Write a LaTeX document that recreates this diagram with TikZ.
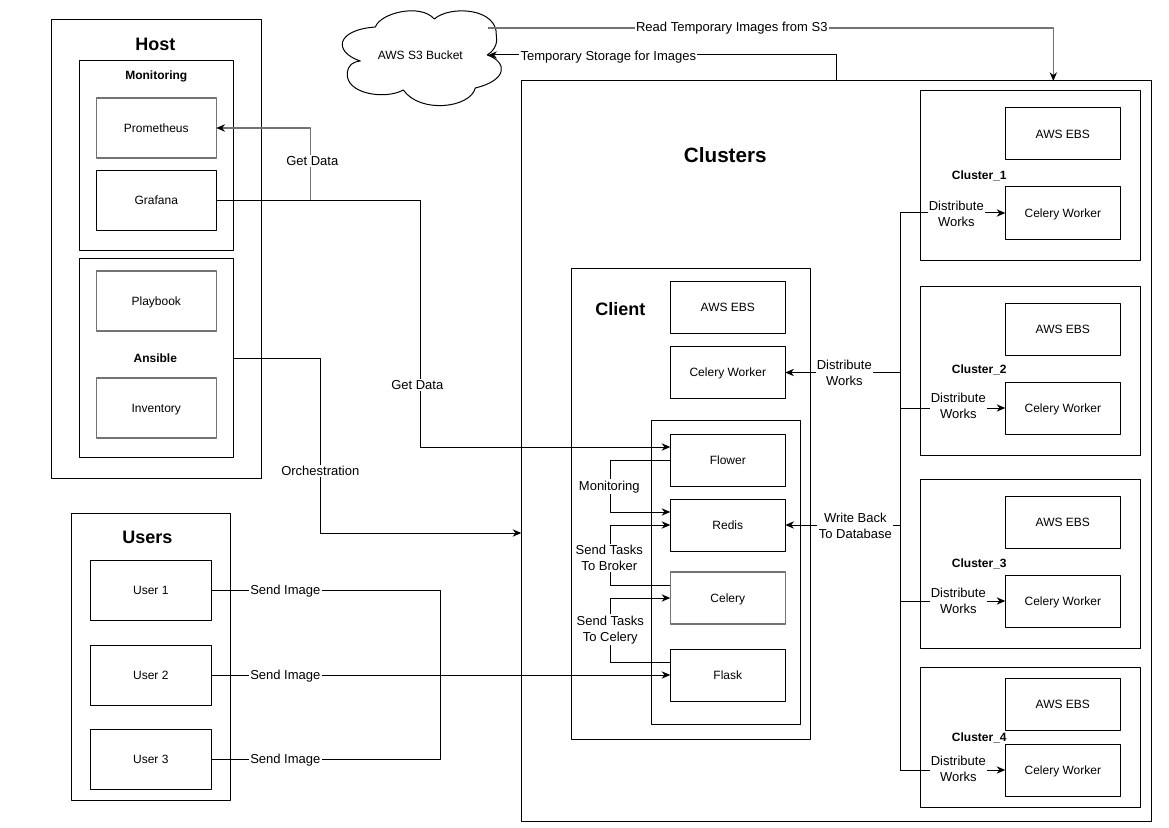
\documentclass[tikz,border=0pt]{standalone}
\usepackage{fontspec}
\setmainfont{Liberation Sans}
\usetikzlibrary{arrows.meta}
\tikzset{
	box/.style 2 args={draw, outer sep=0pt, inner sep=0pt, minimum width=#1*.75pt, minimum height=#2*.75pt, align=center, text height=7.6pt, text depth=1.4pt},
	greybox/.style={draw=black!55, line width=1.2pt},
	greyline/.style={draw=black!55, line width=1.1pt, >={Stealth[length=6.5pt,width=5.5pt,color=black]}},
	lbl/.style={fill=white, inner sep=1pt, align=center, yshift=-.5pt, font=\fontsize{9.75}{12}\selectfont},
	bold/.style={font=\fontsize{9}{11}\selectfont\bfseries, inner sep=0pt, yshift=-.5pt},
	big/.style={font=\fontsize{13.5}{15}\selectfont\bfseries, inner sep=0pt},
	hi/.style={yshift=9.75pt}
}
\begin{document}
\begin{tikzpicture}[x=.75pt, y=-.75pt, line join=round, >={Stealth[length=6.5pt,width=5.5pt]}, font=\fontsize{9}{12}\selectfont, line width=.75pt]
	\useasboundingbox (-.3,0) rectangle (1168.7,827);
	%% points
	\path
	(488,28) coordinate (s3out)
	(488,55) coordinate (s3in)
	(1053,81) coordinate (cluin)
	(521,533) coordinate (cluleft)
	(310,200) coordinate (jget)
	(440,675) coordinate (jsend)
	(900,213) coordinate (bustop)
	(900,770) coordinate (busbot)
	;
	%% outer boxes
	\node[box={210}{458}] (host) at (156,249) {};
	\node[box={154}{190}] (mon) at (156,155.5) {};
	\node[box={154}{199}] (ans) at (156,358.3) {};
	\node[box={159}{287}] (users) at (150.5,656.5) {};
	\node[box={630}{740}] (clu) at (836,451) {};
	\node[box={239}{471}] (cli) at (690.5,503.5) {};
	\node[box={149}{304}] (srv) at (725.5,572) {};
	\foreach \n/\y/\h in {c1/175.5/169,c2/370.5/169,c3/563.5/169,c4/737/140}
	\node[box={220}{\h}] (\n) at (1030,\y) {};
	%% cloud
	\draw (375,27) .. controls (380,13) and (420,3) .. (434,19)
	.. controls (450,5) and (498,8) .. (496,36)
	.. controls (498,45) and (492,52) .. (487,55)
	.. controls (507,62) and (508,80) .. (475,88)
	.. controls (470,108) and (420,114) .. (403,90)
	.. controls (385,100) and (345,94) .. (347,73)
	.. controls (348,65) and (352,62) .. (360,61)
	.. controls (333,52) and (335,30) .. (375,27);
	\node[inner sep=0pt] (s3) at (420,55) {AWS S3 Bucket};
	%% host
	\node[box={120}{60}, greybox] (pro) at (156,128) {Prometheus};
	\node[box={120}{60}] (gra) at (156,200.5) {Grafana};
	\node[box={120}{60}, greybox] (pla) at (156,301) {Playbook};
	\node[box={120}{60}, greybox] (inv) at (156,408) {Inventory};
	%% users
	\foreach \n/\y/\t in {us1/590/User 1,us2/675/User 2,us3/759/User 3}
	\node[box={121}{60}] (\n) at (150.5,\y) {\t};
	%% client
	\foreach \n/\y/\t in {ceb/307.5/AWS EBS,cwk/372.5/Celery Worker,flo/460/Flower,red/525/Redis,fla/675/Flask}
	\node[box={115}{52}] (\n) at (727.5,\y) {\t};
	\node[box={115}{52}, greybox] (cel) at (727.5,598) {Celery};
	%% cluster
	\foreach \i/\y in {1/134,2/329,3/522,4/704}
	\node[box={115}{52}] (eb\i) at (1062.5,\y) {AWS EBS};
	\foreach \i/\y in {1/213,2/408,3/601,4/770}
	\node[box={115}{52}] (wk\i) at (1062.5,\y) {Celery Worker};
	%% connectors
	\draw[greyline, ->] (s3out) -| (cluin);
	\draw[->] (clu.north) |- (s3in);
	\draw[->] (gra.east) -- ++(204,0) |- ([hi]flo.west);
	\draw[greyline, ->] (jget) |- (pro.east);
	\draw[->] (ans.east) -- ++(87,0) |- (cluleft);
	\draw (us1.east) -| (jsend);
	\draw (us3.east) -| (jsend);
	\draw[->] (us2.east) -- (fla.west);
	\draw[->] (flo.west) -- ++(-60,0) |- ([hi]red.west);
	\draw[->] ([hi]cel.west) -- ++(-60,0) |- (red.west);
	\draw[->] ([hi]fla.west) -- ++(-60,0) |- (cel.west);
	\draw (bustop) -- (busbot);
	\foreach \i in {1,2,3,4}
	\draw[->] (wk\i.west -| bustop) -- (wk\i.west);
	\draw[->] (cwk.east -| bustop) -- (cwk.east);
	\draw[->] (red.east -| bustop) -- (red.east);
	%% labels
	\foreach \n/\x/\y/\t in {l1/731.5/27/Read Temporary Images from S3,l2/608/56/Temporary Storage for Images,l3/312/160/Get Data,l4/417/384/Get Data,l5/320/470/Orchestration,l6/285/590/Send Image,l7/285/675/Send Image,l8/285/759/Send Image,l9/609/486/Monitoring,l10/609/557/Send Tasks\\To Broker,l11/610/629/Send Tasks\\To Celery,l12/855/525/Write Back\\To Database,l13/844/372/Distribute\\Works,l14/956/213/Distribute\\Works,l15/958/405/Distribute\\Works,l16/958/600/Distribute\\Works,l17/958/768/Distribute\\Works}
	\node[lbl] (\n) at (\x,\y) {\t};
	%% titles
	\node[big] (thost) at (155,44) {Host};
	\node[bold] (tmon) at (156,75.5) {Monitoring};
	\node[bold] (tans) at (155,358) {Ansible};
	\node[big] (tusers) at (147,537) {Users};
	\node[big, font=\fontsize{15.5}{17}\selectfont\bfseries] (tclu) at (725,155) {Clusters};
	\node[big] (tcli) at (620,309) {Client};
	\foreach \i/\y in {1/175,2/369,3/563,4/737}
	\node[bold] (tc\i) at (979,\y) {Cluster\_\i};
\end{tikzpicture}
\end{document}
